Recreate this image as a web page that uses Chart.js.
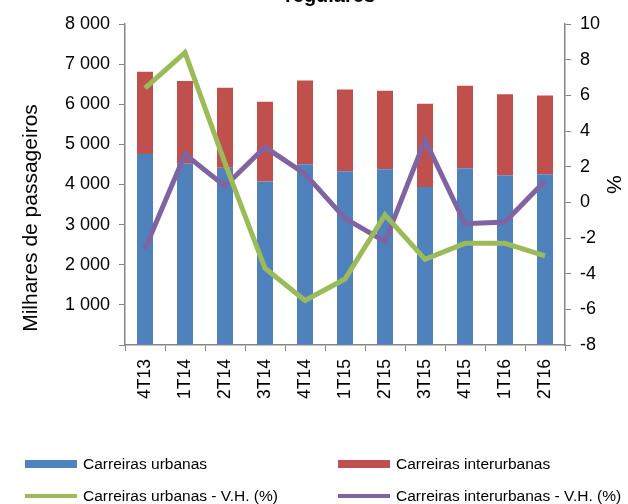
<!DOCTYPE html>
<html>
<head>
<meta charset="utf-8">
<script src="https://cdn.jsdelivr.net/npm/chart.js@4"></script>
<style>
  html, body { margin: 0; padding: 0; background: #fff; }
  #wrap { position: relative; width: 628px; height: 504px; overflow: hidden; font-family: "Liberation Sans", Arial, sans-serif; }
  #chart { position: absolute; left: 0; top: 0; }
  #legend { position: absolute; left: 25px; top: 454px; display: grid; grid-template-columns: 313px 290px; row-gap: 12px; }
  .item { display: flex; align-items: center; font-size: 15.5px; color: #000; white-space: nowrap; height: 20px; }
  .swatch { width: 52px; margin-right: 6px; }
</style>
</head>
<body>
<div id="wrap">
  <canvas id="chart" width="628" height="504"></canvas>
  <div id="legend"></div>
</div>
<script>
const categories = ['4T13', '1T14', '2T14', '3T14', '4T14', '1T15', '2T15', '3T15', '4T15', '1T16', '2T16'];
const urbanas = [4760, 4530, 4420, 4075, 4505, 4330, 4380, 3940, 4405, 4230, 4255];
const interurbanas = [2050, 2050, 1990, 1985, 2085, 2035, 1955, 2070, 2055, 2020, 1960];
const vhUrbanas = [6.4, 8.4, 2.2, -3.7, -5.5, -4.3, -0.7, -3.2, -2.3, -2.3, -3.0];
const vhInterurbanas = [-2.6, 2.7, 0.9, 3.1, 1.6, -0.9, -2.2, 3.5, -1.2, -1.1, 1.2];

const FONT = '"Liberation Sans", Arial, sans-serif';
const AXIS = '#868686';

// title (cut off at the top) and left axis title
const extraText = {
  id: 'extraText',
  afterDraw(chart) {
    const ctx = chart.ctx;
    ctx.save();
    ctx.fillStyle = '#000';
    ctx.textAlign = 'center';
    ctx.textBaseline = 'alphabetic';
    ctx.font = 'bold 20px ' + FONT;
    ctx.fillText('regulares', 330, 2);

    ctx.translate(37, 218);
    ctx.rotate(-Math.PI / 2);
    ctx.font = '21px ' + FONT;
    ctx.fillText('Milhares de passageiros', 0, 0);
    ctx.restore();
  }
};

function spaced(v) {
  return String(v).replace(/\B(?=(\d{3})+(?!\d))/g, ' ');
}

const chart = new Chart(document.getElementById('chart'), {
  type: 'bar',
  data: {
    labels: categories,
    datasets: [
      { type: 'line', label: 'Carreiras urbanas - V.H. (%)', data: vhUrbanas, yAxisID: 'y1',
        borderColor: '#9BBB59', backgroundColor: '#9BBB59', borderWidth: 5, pointRadius: 0, tension: 0, order: 0 },
      { type: 'line', label: 'Carreiras interurbanas - V.H. (%)', data: vhInterurbanas, yAxisID: 'y1',
        borderColor: '#8064A2', backgroundColor: '#8064A2', borderWidth: 5, pointRadius: 0, tension: 0, order: 0 },
      { label: 'Carreiras urbanas', data: urbanas, backgroundColor: '#4F81BD', stack: 's', yAxisID: 'y', order: 1 },
      { label: 'Carreiras interurbanas', data: interurbanas, backgroundColor: '#C0504D', stack: 's', yAxisID: 'y', order: 1 }
    ]
  },
  options: {
    responsive: false,
    animation: false,
    layout: { padding: { top: 24, left: 0, right: 0, bottom: 0 } },
    datasets: { bar: { categoryPercentage: 1, barPercentage: 0.4 } },
    plugins: { legend: { display: false }, tooltip: { enabled: false } },
    scales: {
      x: {
        stacked: true,
        afterFit(s) { s.height = 159; },
        grid: { drawOnChartArea: false, color: AXIS, tickLength: 6, offset: true },
        border: { color: AXIS, width: 1.5 },
        ticks: { color: '#000', font: { family: FONT, size: 17.5 }, minRotation: 90, maxRotation: 90, padding: 8 }
      },
      y: {
        stacked: true,
        position: 'left',
        min: 0, max: 8000,
        afterFit(s) { s.width = 125; },
        grid: { drawOnChartArea: false, color: AXIS, tickLength: 6 },
        border: { color: AXIS, width: 1.5 },
        ticks: { stepSize: 1000, color: '#000', font: { family: FONT, size: 18 }, padding: 9,
          callback: v => v === 0 ? '' : spaced(v) }
      },
      y1: {
        position: 'right',
        min: -8, max: 10,
        afterFit(s) { s.width = 63; },
        grid: { drawOnChartArea: false, color: AXIS, tickLength: 6 },
        border: { color: AXIS, width: 1.5 },
        ticks: { stepSize: 2, color: '#000', font: { family: FONT, size: 18 }, padding: 9,
          callback: v => String(v).replace('\u2212', '-') },
        title: { display: true, text: '%', color: '#000', font: { family: FONT, size: 21 }, padding: { top: 3, bottom: 0 } }
      }
    }
  },
  plugins: [extraText]
});

// legend in two columns, bars first
const legend = document.getElementById('legend');
[2, 3, 0, 1].forEach(i => {
  const ds = chart.data.datasets[i];
  const item = document.createElement('div');
  item.className = 'item';
  const sw = document.createElement('span');
  sw.className = 'swatch';
  sw.style.height = ds.type === 'line' ? '4px' : '8px';
  sw.style.background = ds.backgroundColor;
  item.appendChild(sw);
  item.appendChild(document.createTextNode(ds.label));
  legend.appendChild(item);
});
</script>
</body>
</html>
